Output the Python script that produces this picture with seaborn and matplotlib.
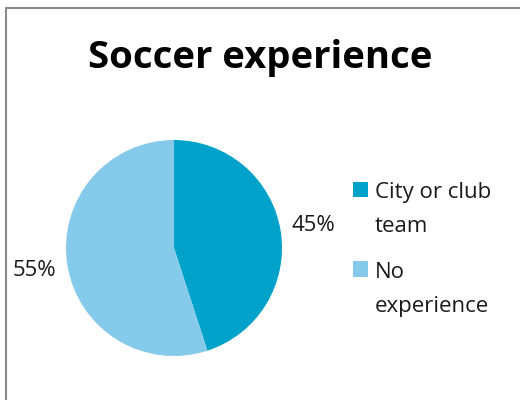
import matplotlib
matplotlib.use("Agg")
import matplotlib.pyplot as plt
from matplotlib.patches import Rectangle
from matplotlib.legend_handler import HandlerPatch
import seaborn as sns

# Survey result: soccer experience of the group
categories = ["City or club\nteam", "No\nexperience"]
shares = [45, 55]
colors = ["#00A2CA", "#86CAEB"]

sns.set_theme(style="white")
plt.rcParams["font.family"] = ["Open Sans", "DejaVu Sans"]

fig = plt.figure(figsize=(5.2, 4.0), dpi=100)
fig.patch.set_facecolor("white")

# Chart-area border (top and left edges visible)
fig.patches.append(Rectangle((6 / 520, -0.2), 1.3, 1.2 - 8 / 400,
                             transform=fig.transFigure, fill=False,
                             edgecolor="#8a8a8a", linewidth=1.5))

fig.text(0.5, 1 - 68 / 400, "Soccer experience", ha="center", va="baseline",
         fontsize=27.5, fontweight="bold", color="black")

ax = fig.add_axes([66 / 520, 44 / 400, 216 / 520, 216 / 400])
wedges, _, pct_texts = ax.pie(
    shares,
    colors=sns.color_palette(colors),
    startangle=90,
    counterclock=False,
    autopct="%1.0f%%",
    pctdistance=1.31,
    wedgeprops=dict(linewidth=0),
    textprops=dict(fontsize=16, color="#1a1a1a"),
)
ax.set_xlim(-1, 1)
ax.set_ylim(-1, 1)
for t in pct_texts:
    t.set_clip_on(False)


class FirstLineSquare(HandlerPatch):
    """Square swatch aligned with the first line of a two-line label."""

    def __init__(self, shift, **kw):
        super().__init__(**kw)
        self.shift = shift

    def create_artists(self, legend, orig_handle, xdescent, ydescent,
                       width, height, fontsize, trans):
        p = Rectangle((-xdescent, -ydescent + self.shift * fontsize),
                      width, height, facecolor=orig_handle.get_facecolor(),
                      edgecolor="none", transform=trans)
        return [p]


leg = fig.legend(
    wedges, categories,
    loc="upper left", bbox_to_anchor=(353 / 520, 1 - 182 / 400),
    frameon=False, fontsize=16, borderpad=0, borderaxespad=0,
    handlelength=0.68, handleheight=0.68, handletextpad=0.3,
    labelspacing=1.1,
    handler_map={w: FirstLineSquare(0.91) for w in wedges},
)
for t in leg.get_texts():
    t.set_linespacing(1.82)
    t.set_color("#1a1a1a")

fig.savefig("out.png", dpi=100, facecolor="white")
